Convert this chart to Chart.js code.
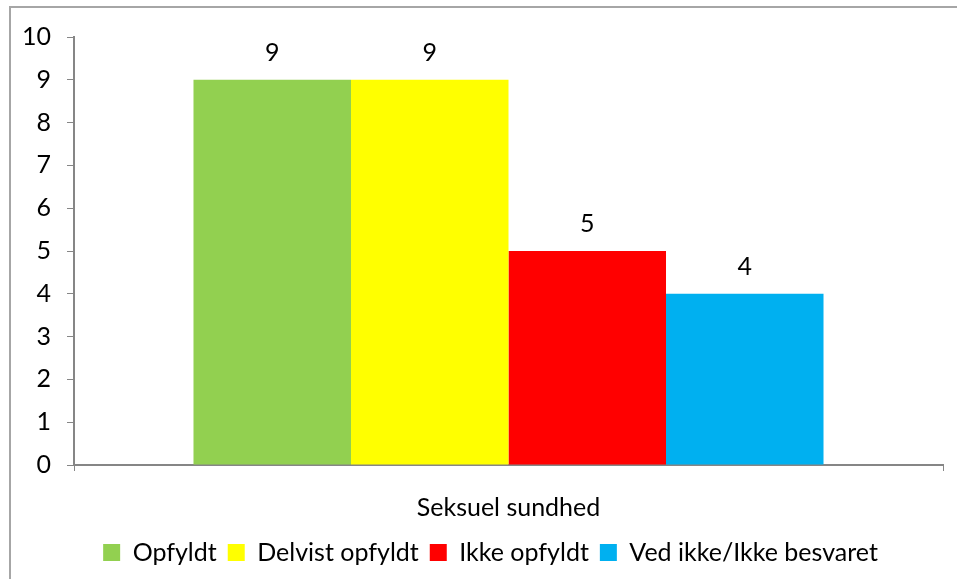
<!DOCTYPE html>
<html>
<head>
<meta charset="utf-8">
<script src="https://cdn.jsdelivr.net/npm/chart.js@4/dist/chart.umd.min.js"></script>
<style>
  html, body { margin: 0; padding: 0; background: #fff; }
  #wrap { position: relative; width: 957px; height: 579px; overflow: hidden; }
  #frame { position: absolute; left: 9px; top: 6px; width: 1000px; height: 1000px;
           border-left: 2px solid #a6a6a6; border-top: 2px solid #a6a6a6; box-sizing: border-box; }
  canvas { position: absolute; left: 0; top: 0; }
</style>
</head>
<body>
<div id="wrap">
  <div id="frame"></div>
  <canvas id="c" width="957" height="579"></canvas>
</div>
<script>
const categories = ["Seksuel sundhed"];
const seriesNames = ["Opfyldt", "Delvist opfyldt", "Ikke opfyldt", "Ved ikke/Ikke besvaret"];
const seriesValues = [[9], [9], [5], [4]];
const seriesColors = ["#92D050", "#FFFF00", "#FF0000", "#00B0F0"];
const yTicks = [0, 1, 2, 3, 4, 5, 6, 7, 8, 9, 10];

const FONT = "Lato, 'Open Sans', sans-serif";
const axisColor = "#868686";

const dataLabels = {
  id: "dataLabels",
  afterDatasetsDraw(chart) {
    const ctx = chart.ctx;
    ctx.save();
    ctx.font = "25px " + FONT;
    ctx.fillStyle = "#000";
    ctx.textAlign = "center";
    ctx.textBaseline = "alphabetic";
    chart.data.datasets.forEach((ds, i) => {
      const meta = chart.getDatasetMeta(i);
      meta.data.forEach((bar, j) => {
        ctx.fillText(String(ds.data[j]), bar.x, bar.y - 19);
      });
    });
    ctx.restore();
  }
};

const legendShift = {
  id: "legendShift",
  afterLayout(chart) {
    if (chart.legend) {
      chart.legend.left += 19;
      chart.legend.right += 19;
    }
  }
};

new Chart(document.getElementById("c"), {
  type: "bar",
  data: {
    labels: categories,
    datasets: seriesNames.map((n, i) => ({
      label: n,
      data: seriesValues[i],
      backgroundColor: seriesColors[i],
      borderWidth: 0,
      categoryPercentage: 0.725,
      barPercentage: 1.0
    }))
  },
  options: {
    responsive: false,
    animation: false,
    devicePixelRatio: 1,
    layout: { padding: { top: 37, right: 14, left: 0, bottom: 4 } },
    plugins: {
      legend: {
        position: "bottom",
        labels: {
          font: { family: FONT, size: 25 },
          color: "#000",
          boxWidth: 17,
          boxHeight: 17,
          padding: 11
        }
      },
      tooltip: { enabled: false },
      title: { display: false }
    },
    scales: {
      x: {
        grid: { drawOnChartArea: false, drawTicks: true, tickLength: 6, color: axisColor, offset: true },
        border: { color: axisColor, width: 2 },
        ticks: { font: { family: FONT, size: 25 }, color: "#000", padding: 22 },
        afterFit(s) { s.height = 64; }
      },
      y: {
        min: 0, max: 10,
        afterBuildTicks(s) { s.ticks = yTicks.map(v => ({ value: v })); },
        grid: { drawOnChartArea: false, drawTicks: true, tickLength: 7, color: axisColor },
        border: { color: axisColor, width: 2 },
        ticks: { font: { family: FONT, size: 25 }, color: "#000", padding: 16 },
        afterFit(s) { s.width = 74; }
      }
    }
  },
  plugins: [dataLabels, legendShift]
});
</script>
</body>
</html>
